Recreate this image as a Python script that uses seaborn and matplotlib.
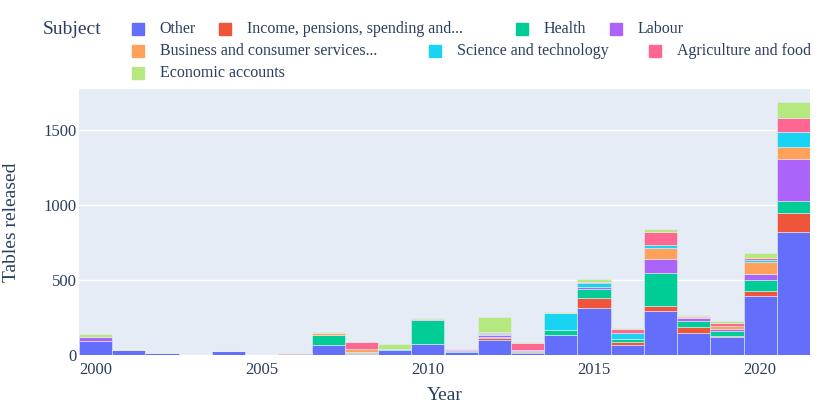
import pandas as pd
import matplotlib.pyplot as plt
import matplotlib.patches as mpatches
import seaborn as sns

# values (tables released per year and subject)
years = list(range(2000, 2022))
subjects = ["Other", "Income, pensions, spending and...", "Health", "Labour",
            "Business and consumer services...", "Science and technology",
            "Agriculture and food", "Economic accounts"]

other = [95, 33, 10, 3, 29, 0, 7, 65, 9, 36, 76, 22, 100, 16, 133, 313, 69, 293, 149, 120, 396, 822]
income = [0, 0, 0, 0, 0, 0, 6, 0, 3, 0, 0, 0, 11, 2, 0, 69, 20, 35, 35, 9, 31, 125]
health = [0, 0, 3, 0, 0, 0, 0, 68, 8, 2, 157, 6, 12, 11, 31, 56, 15, 218, 43, 29, 75, 82]
labour = [22, 2, 0, 0, 0, 0, 0, 0, 0, 0, 0, 4, 9, 2, 0, 15, 0, 93, 17, 18, 40, 278]
business = [0, 0, 0, 0, 0, 0, 0, 12, 22, 0, 3, 0, 8, 0, 4, 0, 3, 73, 6, 20, 80, 80]
science = [0, 0, 3, 0, 0, 0, 0, 0, 0, 0, 0, 0, 8, 0, 112, 29, 37, 18, 0, 0, 14, 100]
agriculture = [0, 0, 0, 0, 0, 0, 0, 0, 45, 0, 4, 6, 5, 51, 0, 7, 29, 91, 8, 20, 8, 93]
economic = [23, 0, 0, 0, 0, 0, 0, 5, 0, 37, 7, 4, 100, 3, 5, 18, 7, 22, 6, 11, 34, 104]

colors = ["#636EFA", "#EF553B", "#00CC96", "#AB63FA",
          "#FFA15A", "#19D3F3", "#FF6692", "#B6E880"]

series = [other, income, health, labour, business, science, agriculture, economic]
rows = []
for name, vals in zip(subjects, series):
    for y, v in zip(years, vals):
        rows.append({"Year": y, "Subject": name, "Tables": v})
df = pd.DataFrame(rows)

sns.set_style("white")
plt.rcParams['font.family'] = ['Liberation Serif', 'DejaVu Serif']
txt = "#2a3f5f"

W, H = 830, 415
fig = plt.figure(figsize=(8.3, 4.15), dpi=100)
ax = fig.add_axes([79 / W, 1 - 355 / H, (810 - 79) / W, (355 - 89) / H])
ax.set_facecolor("#E5ECF6")

# seaborn puts the first hue level on top of the stack, so reverse it
sns.histplot(data=df, x="Year", weights="Tables", hue="Subject",
             hue_order=subjects[::-1], palette=colors[::-1], multiple="stack",
             discrete=True, alpha=1, edgecolor="#E5ECF6", linewidth=0.4,
             legend=False, ax=ax)

ax.set_xlim(1999.5, 2021.5)
ax.set_ylim(0, 1773)
ax.set_xticks([2000, 2005, 2010, 2015, 2020])
ax.set_yticks([0, 500, 1000, 1500])
ax.yaxis.grid(True, color="white", linewidth=1)
ax.xaxis.grid(False)
ax.set_axisbelow(True)
for s in ax.spines.values():
    s.set_visible(False)
ax.tick_params(axis="both", length=0, labelsize=12, labelcolor=txt)
ax.tick_params(axis="x", pad=5)
ax.tick_params(axis="y", pad=1.5)

ax.set_xlabel("Year", fontsize=14, color=txt)
ax.set_ylabel("Tables released", fontsize=14, color=txt)
ax.xaxis.set_label_coords(0.5, (355 - 387) / (355 - 89))
ax.yaxis.set_label_coords((20 - 79) / (810 - 79), 0.5)

# legend drawn like the plotly one: title on the left, entries flowing in rows
fig.text(43 / W, 1 - 30 / H, "Subject", fontsize=14, color=txt, va="center", ha="left")
marker_x = [132, 219, 516, 610, 132, 429, 649, 132]
row_y = [29, 29, 29, 29, 51, 51, 51, 73]
for name, col, mx, my in zip(subjects, colors, marker_x, row_y):
    fig.add_artist(mpatches.Rectangle((mx / W, 1 - (my + 6) / H), 12 / W, 12 / H,
                                      transform=fig.transFigure, color=col))
    fig.text((mx + 27.5) / W, 1 - my / H, name, fontsize=11.5, color=txt,
             va="center", ha="left")

fig.savefig("out.png", dpi=100)
